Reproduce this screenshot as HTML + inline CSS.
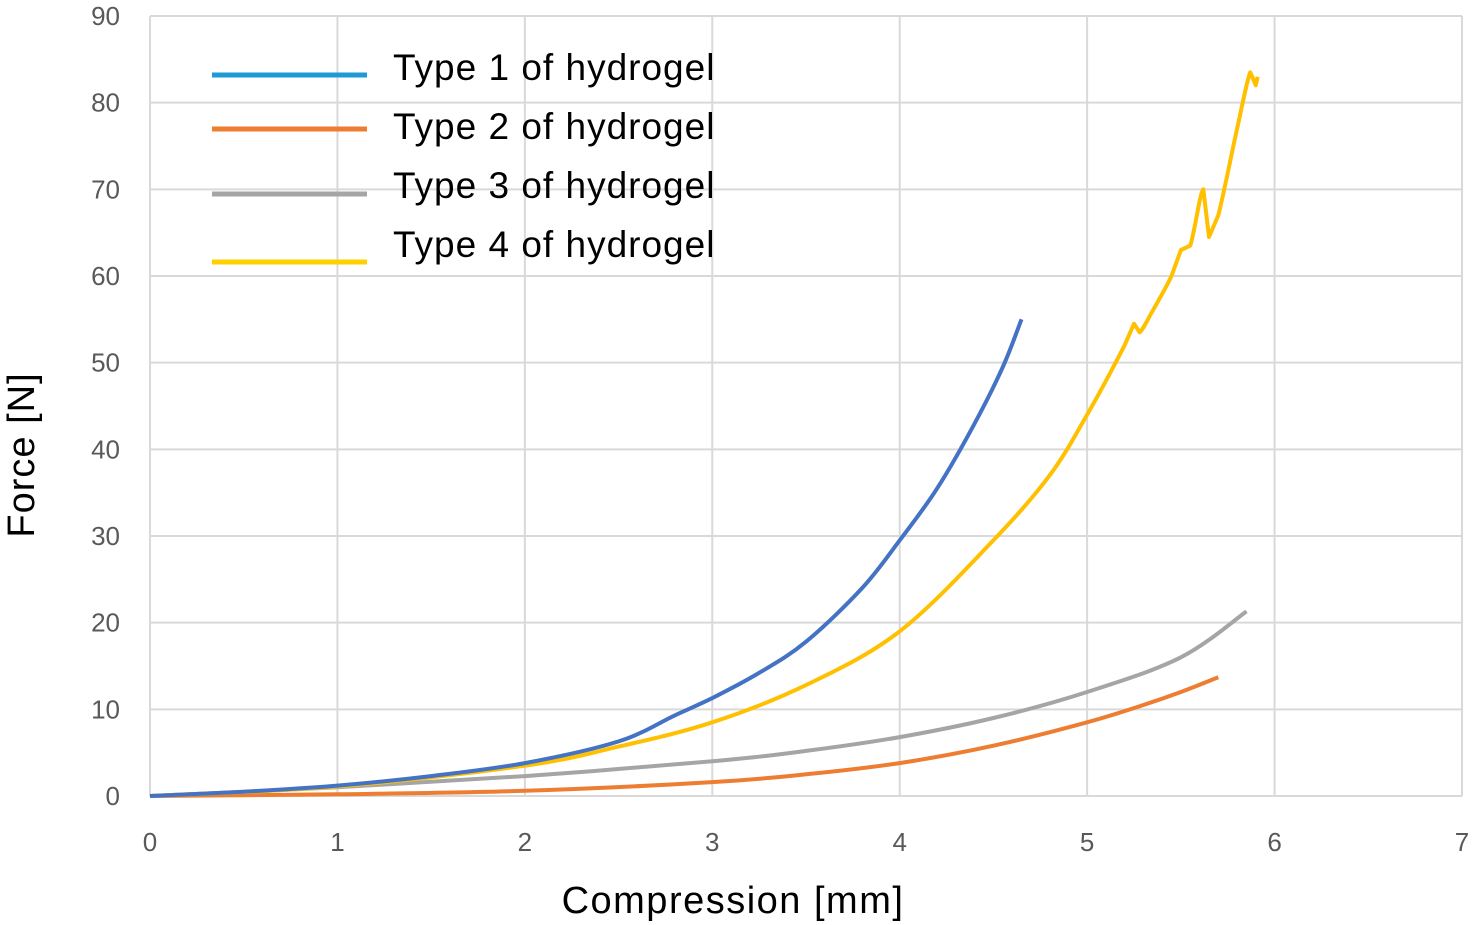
<!DOCTYPE html>
<html><head><meta charset="utf-8"><style>
body{margin:0;background:#fff;}
svg{display:block;font-family:"Liberation Sans",sans-serif;}
</style></head><body>
<svg id="chart" width="1473" height="925"></svg>
<script>
const xTicks=[0,1,2,3,4,5,6,7];
const yTicks=[0,10,20,30,40,50,60,70,80,90];
const seriesNames=["Type 1 of hydrogel","Type 2 of hydrogel","Type 3 of hydrogel","Type 4 of hydrogel"];
const t1x=[0,0.5,1,1.5,2,2.5,2.8,3,3.25,3.5,3.8,4,4.2,4.4,4.55,4.65];
const t1y=[0,0.5,1.2,2.3,3.8,6.3,9.3,11.3,14.2,17.8,24,29.5,35.5,43,49.5,55];
const t2x=[0,1,2,3,3.5,4,4.5,5,5.3,5.5,5.7];
const t2y=[0,0.2,0.6,1.6,2.5,3.8,5.8,8.5,10.5,12,13.7];
const t3x=[0,1,2,3,3.5,4,4.5,5,5.5,5.85];
const t3y=[0,1.0,2.3,4.0,5.2,6.8,9,12,16,21.3];
const t4x=[0,1,2,2.5,3,3.5,4,4.5,4.8,5,5.2,5.25,5.28,5.35,5.45,5.5,5.55,5.62,5.65,5.7,5.8,5.87,5.9,5.91];
const t4y=[0,1.1,3.5,5.7,8.5,12.8,19,29.5,37,44,52,54.5,53.5,56,60,63,63.5,70,64.5,67,77,83.5,82,83];
const ns="http://www.w3.org/2000/svg";
const svg=document.getElementById('chart');
const X=v=>150+v*(1312/7), Y=v=>796-v*(780/90);
function el(t,a,p){const e=document.createElementNS(ns,t);for(const k in a)e.setAttribute(k,a[k]);(p||svg).appendChild(e);return e;}
xTicks.forEach(v=>{const l=el('line',{x1:X(v),x2:X(v),y1:Y(0),y2:Y(90),stroke:'#d9d9d9','stroke-width':2});


const t=el('text',{x:X(v),y:851,'text-anchor':'middle','font-size':26,fill:'#595959'});t.textContent=v;

});
yTicks.forEach(v=>{const l=el('line',{x1:X(0),x2:X(7),y1:Y(v),y2:Y(v),stroke:'#d9d9d9','stroke-width':2});


const t=el('text',{x:120,y:Y(v)+9,'text-anchor':'end','font-size':26,fill:'#595959'});t.textContent=v;

});
const xt=el('text',{x:733,y:913,'text-anchor':'middle','font-size':38,fill:'#000','letter-spacing':'1.5'});xt.textContent='Compression [mm]';


const yt=el('text',{x:0,y:0,'text-anchor':'middle','font-size':38,fill:'#000','letter-spacing':'1','transform':'translate(34,455) rotate(-90)'});yt.textContent='Force [N]';


const cols=['#4472c4','#ed7d31','#a5a5a5','#ffc000'];
const legCols=['#1f9ad6','#ed7d31','#a5a5a5','#ffd000'];
const data=[[t1x,t1y],[t2x,t2y],[t3x,t3y],[t4x,t4y]];
function smooth(pts){let d='M'+pts[0][0].toFixed(1)+','+pts[0][1].toFixed(1);
for(let i=0;i<pts.length-1;i++){const p0=pts[i-1]||pts[i],p1=pts[i],p2=pts[i+1],p3=pts[i+2]||p2;
const t=(Math.abs(p2[0]-p1[0])<12)?0:1/6;
d+='C'+(p1[0]+(p2[0]-p0[0])*t).toFixed(1)+','+(p1[1]+(p2[1]-p0[1])*t).toFixed(1)+' '+(p2[0]-(p3[0]-p1[0])*t).toFixed(1)+','+(p2[1]-(p3[1]-p1[1])*t).toFixed(1)+' '+p2[0].toFixed(1)+','+p2[1].toFixed(1);}
return d;}
[1,2,3,0].forEach(i=>{const pts=data[i][0].map((x,j)=>[X(x),Y(data[i][1][j])]);
const p=el('path',{d:smooth(pts),fill:'none',stroke:cols[i],'stroke-width':4,'stroke-linejoin':'round'});

});
const legY=[75,129,194,262],txtY=[80,139,198,257];
seriesNames.forEach((n,i)=>{const l=el('line',{x1:212,x2:367,y1:legY[i],y2:legY[i],stroke:legCols[i],'stroke-width':5});


const t=el('text',{x:393,y:txtY[i],'font-size':37,fill:'#000','letter-spacing':'1'});t.textContent=n;

});
</script>
</body></html>
